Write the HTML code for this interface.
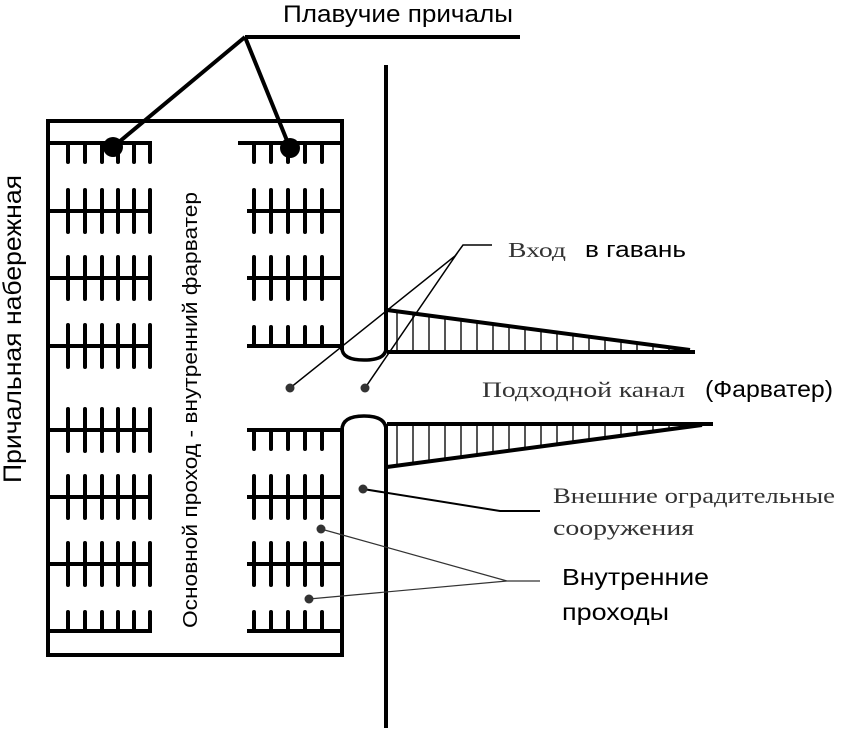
<!DOCTYPE html>
<html><head><meta charset="utf-8"><style>
html,body{margin:0;padding:0;background:#fff;}
svg{display:block;}
.s{font-family:"Liberation Sans","DejaVu Sans",sans-serif;}
.r{font-family:"Liberation Serif","DejaVu Serif",serif;fill:#333;}
</style></head><body>
<svg width="848" height="733" viewBox="0 0 848 733" xmlns="http://www.w3.org/2000/svg">
<defs>
<clipPath id="c1"><polygon points="387,310 690,350 690,352 387,352"/></clipPath>
<clipPath id="c2"><polygon points="387,424 713,424 700,425 387,467"/></clipPath>
<pattern id="h" width="16" height="10" patternUnits="userSpaceOnUse" x="389"><line x1="8" y1="0" x2="8" y2="10" stroke="#555" stroke-width="2"/></pattern>
</defs>
<g stroke="#000" fill="none" stroke-linecap="butt">
<path d="M342,350 V121 H48 V655 H342 V428" stroke-width="4"/>
<g stroke-width="4">
<path d="M48,143H152 M48,211H152 M48,278H152 M48,346H152 M48,430H152 M48,497H152 M48,564H152 M48,631H152"/>
<path d="M238,143H342 M247,211H342 M247,278H342 M247,346H342 M247,430H342 M247,497H342 M247,564H342 M247,631H342"/>
</g>
<g stroke-width="4" stroke-linecap="round">
<path d="M68,143v19 M85,143v19 M102,143v19 M118,143v19 M134,143v19 M150,143v19"/>
<path d="M68,190v42 M85,190v42 M102,190v42 M118,190v42 M134,190v42 M150,190v42"/>
<path d="M68,257v42 M85,257v42 M102,257v42 M118,257v42 M134,257v42 M150,257v42"/>
<path d="M68,325v42 M85,325v42 M102,325v42 M118,325v42 M134,325v42 M150,325v42"/>
<path d="M68,409v42 M85,409v42 M102,409v42 M118,409v42 M134,409v42 M150,409v42"/>
<path d="M68,476v42 M85,476v42 M102,476v42 M118,476v42 M134,476v42 M150,476v42"/>
<path d="M68,543v42 M85,543v42 M102,543v42 M118,543v42 M134,543v42 M150,543v42"/>
<path d="M68,612v19 M85,612v19 M102,612v19 M118,612v19 M134,612v19 M150,612v19"/>
<path d="M254,143v19 M271,143v19 M288,143v19 M305,143v19 M322,143v19"/>
<path d="M254,190v42 M271,190v42 M288,190v42 M305,190v42 M322,190v42"/>
<path d="M254,257v42 M271,257v42 M288,257v42 M305,257v42 M322,257v42"/>
<path d="M254,327v19 M271,327v19 M288,327v19 M305,327v19 M322,327v19"/>
<path d="M254,430v19 M271,430v19 M288,430v19 M305,430v19 M322,430v19"/>
<path d="M254,476v42 M271,476v42 M288,476v42 M305,476v42 M322,476v42"/>
<path d="M254,543v42 M271,543v42 M288,543v42 M305,543v42 M322,543v42"/>
<path d="M254,612v19 M271,612v19 M288,612v19 M305,612v19 M322,612v19"/>
</g>
<path d="M386,65 V352 M386,424 V728" stroke-width="4"/>
<path d="M342,348 Q342,360 364,360 Q386,360 386,348" stroke-width="3.5"/>
<path d="M342,430 Q342,416 364,416 Q386,416 386,430" stroke-width="3.5"/>
<rect x="387" y="300" width="310" height="60" fill="url(#h)" stroke="none" clip-path="url(#c1)"/>
<rect x="387" y="420" width="330" height="50" fill="url(#h)" stroke="none" clip-path="url(#c2)"/>
<path d="M387,310 L690,350 M387,352 H695" stroke-width="4"/>
<path d="M387,424 H713 M387,467 L702,425" stroke-width="4"/>
<path d="M245,37 H520 M245,37 L113,147 M245,37 L290,148" stroke-width="4"/>
<path d="M290,388 L455,256 L463,245 H492 M365,388 L458,252" stroke-width="1.5"/>
<path d="M363,489 L500,511 H540" stroke-width="2"/>
<path d="M321,529 L507,581 H540 M309,599 L507,581" stroke-width="1.2" stroke="#333"/>
</g>
<g fill="#000">
<circle cx="113" cy="147" r="10"/><circle cx="290" cy="148" r="10"/>
</g>
<g fill="#333">
<circle cx="290" cy="388" r="4.5"/><circle cx="365" cy="388" r="4.5"/>
<circle cx="363" cy="489" r="4.5"/><circle cx="321" cy="529" r="4.5"/><circle cx="309" cy="599" r="4.5"/>
</g>
<text class="s" x="283" y="22" font-size="24" textLength="230" lengthAdjust="spacingAndGlyphs">Плавучие причалы</text>
<text class="r" x="508" y="257" font-size="21" textLength="58" lengthAdjust="spacingAndGlyphs">Вход</text>
<text class="s" x="585" y="257" font-size="22" textLength="101" lengthAdjust="spacingAndGlyphs">в гавань</text>
<text class="r" x="482" y="397" font-size="22" textLength="203" lengthAdjust="spacingAndGlyphs">Подходной канал</text>
<text class="s" x="705" y="397" font-size="23" textLength="128" lengthAdjust="spacingAndGlyphs">(Фарватер)</text>
<text class="r" x="553" y="503" font-size="22" textLength="282" lengthAdjust="spacingAndGlyphs">Внешние оградительные</text>
<text class="r" x="553" y="535" font-size="22" textLength="141" lengthAdjust="spacingAndGlyphs">сооружения</text>
<text class="s" x="562" y="585" font-size="23" textLength="147" lengthAdjust="spacingAndGlyphs">Внутренние</text>
<text class="s" x="562" y="620" font-size="23" textLength="107" lengthAdjust="spacingAndGlyphs">проходы</text>
<text class="s" font-size="25" text-anchor="middle" textLength="308" lengthAdjust="spacingAndGlyphs" transform="translate(21,329) rotate(-90)">Причальная набережная</text>
<text class="s" font-size="20" text-anchor="middle" textLength="436" lengthAdjust="spacingAndGlyphs" transform="translate(197,410) rotate(-90)">Основной проход - внутренний фарватер</text>
</svg>
</body></html>
